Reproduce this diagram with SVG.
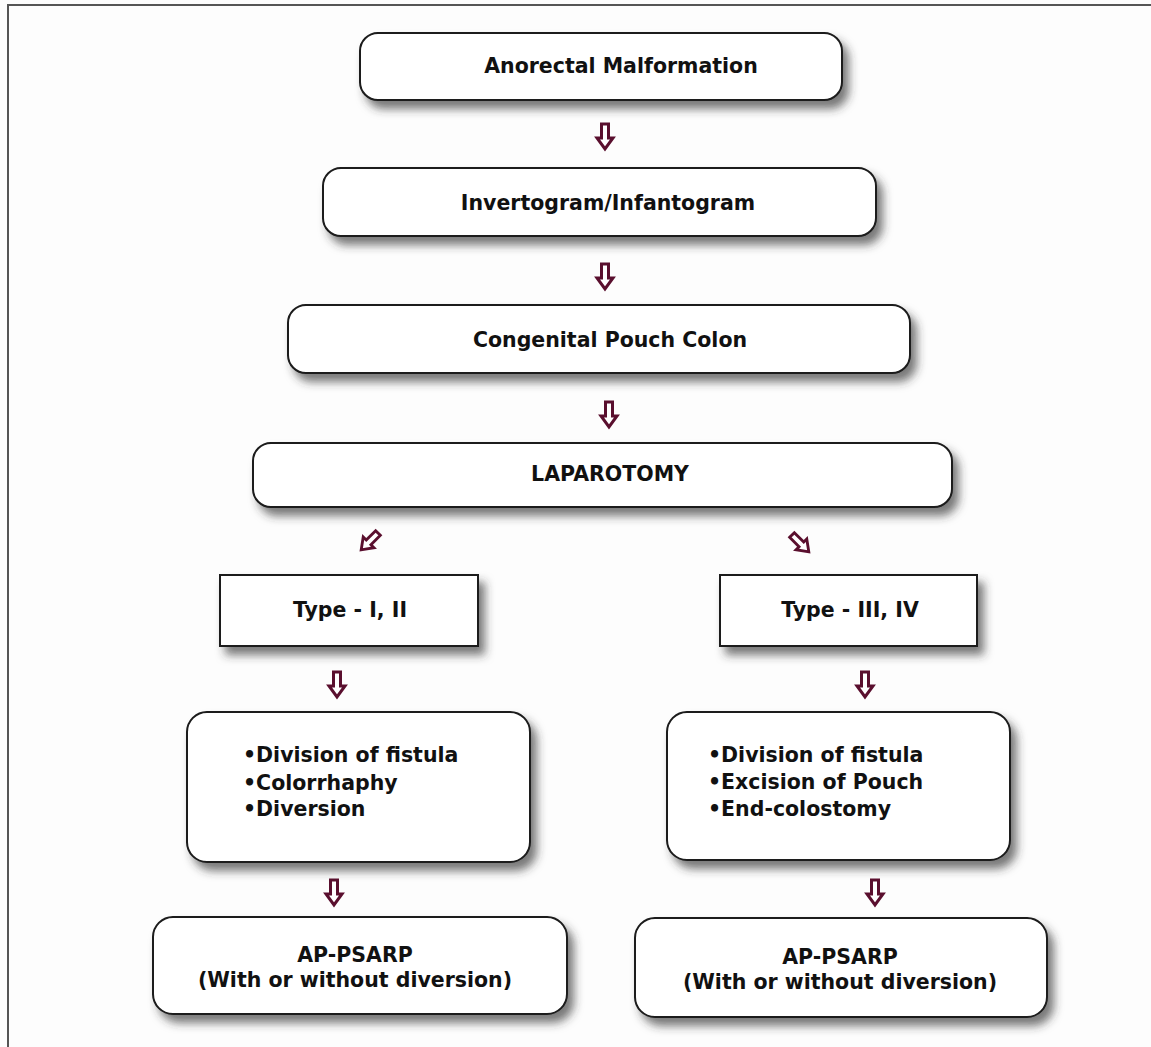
<svg xmlns="http://www.w3.org/2000/svg" xmlns:xlink="http://www.w3.org/1999/xlink" width="1151" height="1047" viewBox="0 0 1151 1047">
<style>
.box{fill:#ffffff;stroke:#1a1a1a;stroke-width:2;filter:url(#sh)}
.t{font-family:"DejaVu Sans",Verdana,sans-serif;font-weight:bold;font-size:20.5px;fill:#111}
.c{text-anchor:middle}
.arr{fill:#ffffff;stroke:#5a0f2e;stroke-width:3;stroke-linejoin:miter}
</style>
<defs>
<filter id="sh" x="-10%" y="-20%" width="125%" height="160%">
<feDropShadow dx="6" dy="8" stdDeviation="5" flood-color="#333" flood-opacity="0.65"/>
</filter>
<path id="arrow" d="M-3.5,0 H3.5 V14 H8 L0,25 L-8,14 H-3.5 Z"/>
</defs>
<rect x="0" y="0" width="1151" height="1047" fill="#fdfdfd"/>
<rect x="8" y="5" width="1170" height="1070" fill="none" stroke="#555" stroke-width="2"/>

<g id="connectors">
<use xlink:href="#arrow" class="arr" transform="translate(605,124)"/>
<use xlink:href="#arrow" class="arr" transform="translate(605,264)"/>
<use xlink:href="#arrow" class="arr" transform="translate(609,402)"/>
<use xlink:href="#arrow" class="arr" transform="translate(378,533) rotate(45) scale(0.95)"/>
<use xlink:href="#arrow" class="arr" transform="translate(792,535) rotate(-45) scale(0.95)"/>
<use xlink:href="#arrow" class="arr" transform="translate(337,672)"/>
<use xlink:href="#arrow" class="arr" transform="translate(865,672)"/>
<use xlink:href="#arrow" class="arr" transform="translate(334,880)"/>
<use xlink:href="#arrow" class="arr" transform="translate(875,880)"/>
</g>

<g id="n1">
<rect class="box" x="360" y="33" width="482" height="67" rx="18"/>
<text class="t c" x="621" y="73">Anorectal Malformation</text>
</g>
<g id="n2">
<rect class="box" x="323" y="168" width="553" height="68" rx="18"/>
<text class="t c" x="608" y="210">Invertogram/Infantogram</text>
</g>
<g id="n3">
<rect class="box" x="288" y="305" width="622" height="68" rx="18"/>
<text class="t c" x="610" y="347">Congenital Pouch Colon</text>
</g>
<g id="n4">
<rect class="box" x="253" y="443" width="699" height="64" rx="18"/>
<text class="t c" x="610" y="481">LAPAROTOMY</text>
</g>
<g id="n5">
<rect class="box" x="220" y="575" width="258" height="71"/>
<text class="t c" x="350" y="617">Type - I, II</text>
</g>
<g id="n6">
<rect class="box" x="720" y="575" width="257" height="71"/>
<text class="t c" x="850" y="617">Type - III, IV</text>
</g>
<g id="n7">
<rect class="box" x="187" y="712" width="343" height="150" rx="20"/>
<text class="t" x="243" y="762">•Division of fistula</text>
<text class="t" x="243" y="790">•Colorrhaphy</text>
<text class="t" x="243" y="816">•Diversion</text>
</g>
<g id="n8">
<rect class="box" x="667" y="712" width="343" height="148" rx="20"/>
<text class="t" x="708" y="762">•Division of fistula</text>
<text class="t" x="708" y="789">•Excision of Pouch</text>
<text class="t" x="708" y="816">•End-colostomy</text>
</g>
<g id="n9">
<rect class="box" x="153" y="917" width="414" height="97" rx="20"/>
<text class="t c" x="355" y="962">AP-PSARP</text>
<text class="t c" x="355" y="987">(With or without diversion)</text>
</g>
<g id="n10">
<rect class="box" x="635" y="918" width="412" height="99" rx="20"/>
<text class="t c" x="840" y="964">AP-PSARP</text>
<text class="t c" x="840" y="989">(With or without diversion)</text>
</g>
</svg>
